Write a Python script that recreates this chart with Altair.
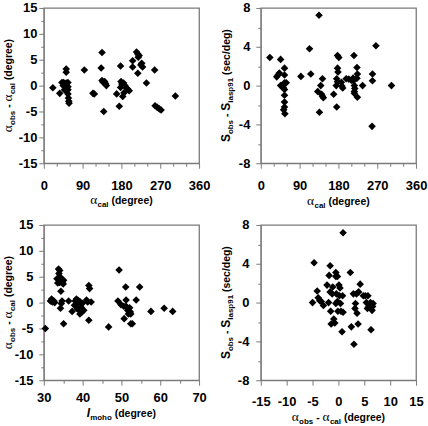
import altair as alt
import pandas as pd

# ---- azimuth residual vs calculated back-azimuth -------------------------
az_cal_1 = [21, 37, 42, 46, 45, 48, 51, 52, 52, 52,
            56, 56, 56, 56, 57, 58, 58.5,
            94, 114, 117,
            133, 135, 135, 137, 139, 141, 143, 145,
            169, 175, 178, 178, 179, 181, 183, 185, 186, 188, 191, 195, 198,
            206, 206, 215, 218, 219, 218, 221, 225, 227, 229,
            238, 257, 258, 263, 268, 272, 305]
az_res_1 = [-0.4, -1.5, 0.6, 0.6, 0, -0.8, -1.0, 3.2, 2.6, 0.5,
            0.6, -0.2, -0.8, -1.6, -2.4, -3.0, -3.4,
            3.0, -1.5, -1.6,
            3.4, 6.4, 1.0, 0.7, -5.0, 0.8, 0.4, 0,
            -1.6, -4.0, 3.8, -0.35, 0.8, 0.3, -2.1, 0.5, -1.4, 0, -0.4, -0.7, -1.0,
            4.8, 3.6, 6.5, 6.1, 5.5, 2.4, 5.8, 4.0, 4.3,
            3.6, 0.5, 3.0, -3.9, -4.2, -4.5, -4.7, -2.0]

# ---- slowness residual vs calculated back-azimuth ------------------------
az_cal_2 = [21, 46, 37, 40, 43, 46, 50, 55, 55, 55,
            55, 55, 55, 55, 53, 56, 52, 59,
            93, 113, 116, 135, 132, 136, 139, 141, 143, 143, 145,
            169, 178, 181, 178, 179, 176, 178, 176, 175,
            187, 188, 190, 198, 204, 210, 216, 214, 215, 217, 218, 217, 217,
            223, 224, 223, 224, 236, 258, 259, 259, 267, 303]
slow_res_2 = [2.9, 2.7, 0.9, 1.1, 1.3, 0, 0, 1.8, 1.1, 0.3,
              -0.4, -1.0, -1.7, -2.2, -2.5, -2.9, -0.2, 0.3,
              0.95, 3.8, 1.2, 7.25, -0.6, -2.75, 0, -0.9, 0.7, -1.1, -1.25,
              -0.9, 3.1, 2.9, 1.8, 1.4, 0.7, 0.4, -2.2, 0,
              0.35, -0.05, -0.25, 0.7, 0.67, 0.56, 3.1, 0.77, 0.5, 0, -0.3, -0.6, -0.8,
              1.86, 1.2, 0.77, -1.2, 0, -4.2, 1.2, 0.5, 4.1, 0]

# ---- azimuth residual vs incidence angle at the Moho ---------------------
inc_moho_3 = [30.4, 31.7, 32.0, 32.2, 32.6, 32.8, 33.4, 33.8, 34.1, 33.9,
              34.1, 33.6, 34.3, 34.4, 34.5, 34.3, 34.8, 35.0, 35.1, 35.1, 34.7,
              36.4, 37.3, 37.9, 38.1, 38.4, 38.6, 38.7, 38.9, 39.1, 39.3,
              39.4, 39.6, 39.8, 39.9, 40.3, 41.0, 41.3, 41.6, 41.8, 41.6, 42.2,
              46.7, 49.4, 49.1, 49.9, 50.6, 50.7, 51.1, 51.2, 51.2, 51.6,
              51.8, 52.1, 52.3, 52.4, 52.8, 52.4, 54.7, 53.8, 57.6, 61.0, 63.2]
az_res_3 = [-5.0, 0.3, 0.7, 0.1, 0.3, 0, 4.6, 6.5, 6.2, 5.6,
            3.9, 3.8, 4.9, 2.2, -0.2, -1.1, 3.9, 3.6, 4.3, -4.1, 0.3,
            0.3, -1.7, -0.5, 0.3, 0.7, -1.2, -0.2, 0.4, -1.5, -2.2,
            0.1, -0.9, -1.8, -0.2, -1.5, 0.5, 0.1, 3.3, 2.7, -3.4, 0.1,
            -4.7, 6.3, 0.3, -0.4, -0.7, -3.1, 3.0, 0.5, -0.7, -1.5,
            -2.2, -1.0, -1.8, -4.1, -4.1, -2.2, 3.0, 0.5, -1.7, -1.1, -1.7]

# ---- slowness residual vs azimuth residual -------------------------------
az_res_4 = [-4.7, -5.0, -4.1, -3.9, -3.6, -3.3, -2.9, -2.2, -1.9, -1.8,
            -1.6, -1.6, -1.5, -1.4, -1.2, -1.1, -0.9, -0.7, -0.5, -0.5,
            -0.4, -0.2, -0.2, -0.1, 0.1, 0.2, 0.3, 0.4, 0.5, 0.7,
            0.8, 0.9, 0.9, -0.5, 2.3, 2.5, 2.9, 3.0, 3.2, 3.3,
            3.5, 3.6, 3.8, 3.9, 4.2, 4.8, 5.2, 5.4, 5.6, 5.7,
            5.9, 6.2, 6.3, 6.5, 6.6, 6.7]
slow_res_4 = [4.1, 0, 1.2, 0.5, 0.2, 0.1, -0.3, 1.8, 0, 2.8,
              3.8, 1.1, -0.9, -2.2, 0.9, 1.6, -1.7, -2.1, 2.7, 3.1,
              0.9, 2.7, 0.1, -0.9, 1.8, 0.7, 1.5, -0.1, -0.9, -3.0,
              0.7, 7.2, -1.0, -0.1, 3.1, -2.5, 0.9, -4.3, -0.6, -0.1,
              0.9, -1.1, -2.2, 1.1, 1.9, 0.7, 0.7, 0, -0.6, 0.7,
              -0.4, 0, -2.8, -0.8, -0.4, -0.1]

W = H = 156
GAP = 62
GRAY = "#7a7a7a"
SANS = "Liberation Sans"
SERIF = "Liberation Serif"
ONE = alt.Data(values=[{"k": 0}])

# advance widths of Liberation Sans Bold, per 1000 em
ADV = {" ": 278, "(": 333, ")": 333, "-": 333, "/": 278, "a": 556, "b": 611,
       "c": 556, "d": 611, "e": 556, "g": 611, "h": 611, "i": 278, "l": 278,
       "m": 889, "o": 611, "p": 611, "r": 389, "s": 556, "9": 556, "1": 556,
       "S": 667, "I": 278}

STYLES = {
    "main": dict(font=SANS, size=10.5, weight="bold", style="normal", dy=0),
    "sub": dict(font=SANS, size=8, weight="bold", style="normal", dy=3),
    "greek": dict(font=SERIF, size=13.5, weight="normal", style="normal", dy=0),
    "cap": dict(font=SANS, size=12, weight="bold", style="normal", dy=0),
    "ital": dict(font=SANS, size=12, weight="bold", style="italic", dy=0),
}


def piece_width(txt, kind):
    s = STYLES[kind]
    if kind == "greek":
        return 0.55 * s["size"] * len(txt)
    return sum(ADV.get(ch, 556) for ch in txt) * s["size"] / 1000


def rich_title(pieces, x, y, angle=0):
    """Axis title with subscripts, built from text pieces laid end to end."""
    widths = [piece_width(t, k) for t, k in pieces]
    off = -sum(widths) / 2
    layers = []
    for (txt, kind), wd in zip(pieces, widths):
        s = STYLES[kind]
        lead = len(txt) - len(txt.lstrip(" "))
        lead_w = piece_width(" " * lead, kind) if lead else 0
        layers.append(
            alt.Chart(ONE).mark_text(
                align="left", baseline="alphabetic", dx=off + lead_w, dy=s["dy"],
                angle=angle, font=s["font"], fontSize=s["size"],
                fontWeight=s["weight"], fontStyle=s["style"], color="black",
            ).encode(x=alt.value(x), y=alt.value(y), text=alt.value(txt.strip()))
        )
        off += wd
    return layers


def axis(values, step, pad):
    test = f"datum.value % {step} === 0"
    return alt.Axis(
        values=values, title=None, grid=False,
        labelExpr=f"{test} ? '' + datum.value : ''",
        tickSize={"condition": {"test": test, "value": 5}, "value": 3},
        labelPadding=pad, labelFont=SANS, labelFontSize=13,
        labelFontWeight="bold", labelColor="black", labelFlush=False,
        labelOverlap=False, tickColor=GRAY, domainColor=GRAY,
    )


def scatter(xs, ys, xdom, ydom, xaxis, yaxis):
    df = pd.DataFrame({"x": xs, "y": ys})
    return alt.Chart(df).mark_point(
        shape="diamond", filled=True, color="black", size=58, opacity=1
    ).encode(
        x=alt.X("x:Q", scale=alt.Scale(domain=xdom, nice=False, zero=False), axis=xaxis),
        y=alt.Y("y:Q", scale=alt.Scale(domain=ydom, nice=False, zero=False), axis=yaxis),
    )


alpha_res_title = [("α", "greek"), ("obs", "sub"), (" - ", "main"),
                   ("α", "greek"), ("cal", "sub"), (" (degree)", "main")]
slow_res_title = [("S", "cap"), ("obs", "sub"), (" - ", "main"),
                  ("S", "cap"), ("iasp91", "sub"), (" (sec/deg)", "main")]
alpha_cal_title = [("α", "greek"), ("cal", "sub"), (" (degree)", "main")]
moho_title = [("I", "ital"), ("moho", "sub"), (" (degree)", "main")]

az_ticks = list(range(0, 361, 30))
res_ticks = [v / 2 for v in range(-30, 31, 5)]
slow_ticks = list(range(-8, 9, 2))
moho_ticks = list(range(30, 71, 5))
res_x_ticks = list(range(-15, 16, 5))

# keeps the top-left corner of the figure where the first panel's axes begin
corner = alt.Chart(ONE).mark_rule(strokeOpacity=0).encode(
    x=alt.value(-43), y=alt.value(-6), x2=alt.value(0), y2=alt.value(0))

p1 = alt.layer(
    corner,
    scatter(az_cal_1, az_res_1, [0, 360], [-15, 15],
            axis(az_ticks, 90, 11), axis(res_ticks, 5, 2)),
    *rich_title(alpha_res_title, -32, H / 2, angle=270),
    *rich_title(alpha_cal_title, W / 2, H + 41),
).properties(width=W, height=H)

p2 = alt.layer(
    scatter(az_cal_2, slow_res_2, [0, 360], [-8, 8],
            axis(az_ticks, 90, 11), axis(slow_ticks, 4, 6)),
    *rich_title(slow_res_title, -31, H / 2, angle=270),
    *rich_title(alpha_cal_title, W / 2, H + 42),
).properties(width=W, height=H)

p3 = alt.layer(
    scatter(inc_moho_3, az_res_3, [30, 70], [-15, 15],
            axis(moho_ticks, 10, 6), axis(res_ticks, 5, 6)),
    *rich_title(alpha_res_title, -32, H / 2, angle=270),
    *rich_title(moho_title, W / 2, H + 37),
).properties(width=W, height=H)

p4 = alt.layer(
    scatter(az_res_4, slow_res_4, [-15, 15], [-8, 8],
            axis(res_x_ticks, 5, 10), axis(slow_ticks, 4, 7)),
    *rich_title(slow_res_title, -31, H / 2, angle=270),
    *rich_title(alpha_res_title, W / 2, H + 41),
).properties(width=W, height=H)

chart = alt.concat(
    p1, p2, p3, p4, columns=2, spacing=GAP, bounds="flush"
).properties(
    padding=0, background="white"
).configure_view(
    stroke=GRAY, strokeWidth=1.3
)

chart.save("out.html", embed_options={"renderer": "svg", "actions": False})
